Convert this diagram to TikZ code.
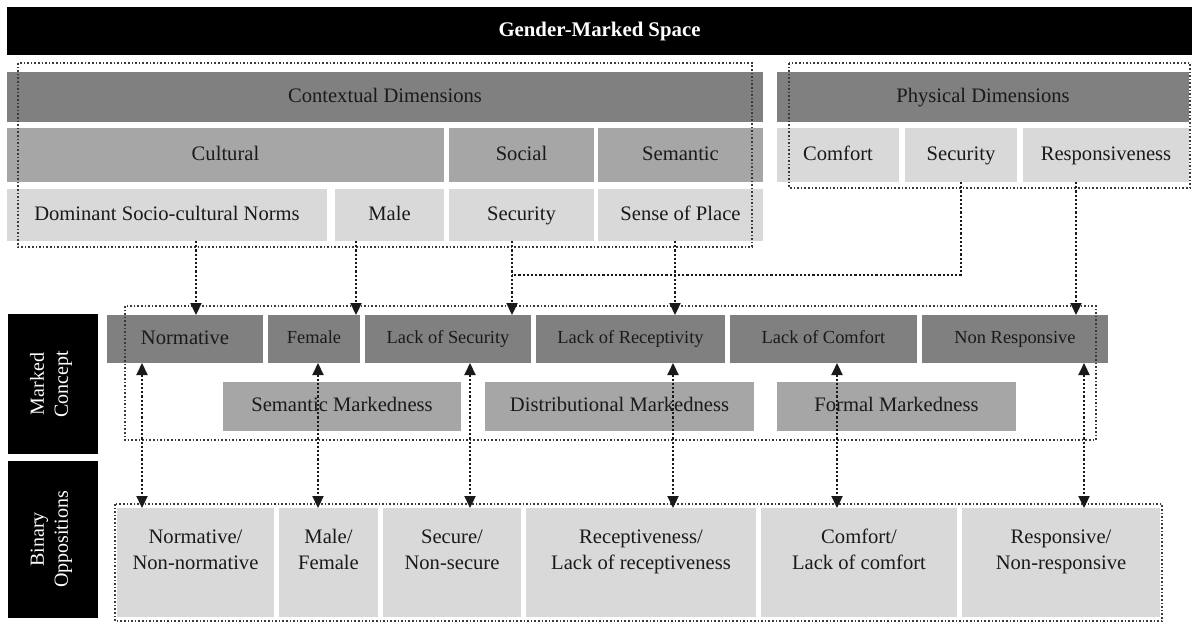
\documentclass[tikz,border=0pt]{standalone}
\usepackage{fontspec}
\setmainfont{Liberation Serif}
\usepackage{tikz}
\usetikzlibrary{arrows.meta,calc,positioning}
\definecolor{ink}{HTML}{1A1A1A}
\definecolor{dotgrey}{HTML}{3A3A3A}
\definecolor{bardark}{HTML}{808080}
\definecolor{barmid}{HTML}{A6A6A6}
\definecolor{barlight}{HTML}{D9D9D9}
\tikzset{
  conn/.style={-{Triangle[length=6pt,width=5.5pt]},line width=1.1pt,densely dotted,draw=ink},
  biconn/.style={{Triangle[length=6pt,width=5.5pt]}-{Triangle[length=6pt,width=5.5pt]},line width=1.1pt,densely dotted,draw=ink},
  link/.style={line width=1.1pt,densely dotted,draw=ink},
  cell/.style={inner sep=0pt,outer sep=0pt,align=center,text=ink,text height=7.4pt,text depth=2.1pt,
               font=\fontsize{10.3}{13}\selectfont},
  darkcell/.style={cell,fill=bardark},
  midcell/.style={cell,fill=barmid},
  lightcell/.style={cell,fill=barlight},
  pairs/.style={lightcell,minimum height=54.5pt,text height=20.4pt,text depth=13pt},
  smalltext/.style={font=\fontsize{9.2}{11}\selectfont,text height=6.6pt,text depth=1.9pt},
  headbar/.style={cell,fill=black,text=white,font=\fontsize{10.4}{12}\selectfont\bfseries},
  sidetag/.style={cell,fill=black,text=white,text height=17pt,text depth=2.1pt,font=\fontsize{10}{12}\selectfont},
  group/.style={densely dotted,line width=0.8pt,draw=dotgrey}
}
\begin{document}
\begin{tikzpicture}[x=0.5pt,y=-0.5pt]
  \useasboundingbox (0,0) rectangle (1193,623);
  % title
  \node[headbar,anchor=north west,minimum width=592.5pt,minimum height=24pt] (title) at (7,7) {Gender-Marked Space};
  % dimensions
  \node[darkcell,anchor=north west,minimum width=378pt,minimum height=25pt] (ctx) at (7,72) {Contextual Dimensions};
  \node[darkcell,minimum width=206pt,minimum height=25pt,right=7pt of ctx] (phys) {Physical Dimensions};
  \node[midcell,anchor=north west,minimum width=218.5pt,minimum height=27pt] (cult) at (7,128) {Cultural};
  \node[midcell,minimum width=72.5pt,minimum height=27pt,right=2.5pt of cult] (soc) {Social};
  \node[midcell,minimum width=82.5pt,minimum height=27pt,right=2pt of soc] (sem) {Semantic};
  \node[lightcell,minimum width=61pt,minimum height=27pt,right=7pt of sem] (comf) {Comfort};
  \node[lightcell,minimum width=56pt,minimum height=27pt,right=3pt of comf] (phsec) {Security};
  \node[lightcell,minimum width=83pt,minimum height=27pt,right=3pt of phsec] (resp) {Responsiveness};
  \node[lightcell,anchor=north west,minimum width=160pt,minimum height=26pt] (dom) at (7,189) {Dominant Socio-cultural Norms};
  \node[lightcell,minimum width=54.5pt,minimum height=26pt,right=4pt of dom] (male) {Male};
  \node[lightcell,minimum width=72.5pt,minimum height=26pt,right=2.5pt of male] (csec) {Security};
  \node[lightcell,minimum width=82.5pt,minimum height=26pt,right=2pt of csec] (sop) {Sense of Place};
  \draw[group] ([shift={(11,-9)}]ctx.north west) rectangle ([shift={(-11,6)}]sop.south east);
  \draw[group] ([shift={(12,-9)}]phys.north west) rectangle ([shift={(1,6)}]resp.south east);
  % side tags
  \node[sidetag,rotate=90,anchor=north east,minimum width=70pt,minimum height=45pt] (mclab) at (8,314) {Marked\\Concept};
  \node[sidetag,rotate=90,anchor=north east,minimum width=78.5pt,minimum height=45pt] (bolab) at (8,461) {Binary\\Oppositions};
  % marked concept
  \node[darkcell,anchor=north west,minimum width=78pt,minimum height=24pt] (norm) at (107,315) {Normative};
  \node[darkcell,smalltext,minimum width=46pt,minimum height=24pt,right=2.5pt of norm] (fem) {Female};
  \node[darkcell,smalltext,minimum width=83pt,minimum height=24pt,right=2.5pt of fem] (lsec) {Lack of Security};
  \node[darkcell,smalltext,minimum width=94.5pt,minimum height=24pt,right=2.5pt of lsec] (lrec) {Lack of Receptivity};
  \node[darkcell,smalltext,minimum width=93.5pt,minimum height=24pt,right=2.5pt of lrec] (lcom) {Lack of Comfort};
  \node[darkcell,smalltext,minimum width=93pt,minimum height=24pt,right=2.5pt of lcom] (nres) {Non Responsive};
  \node[midcell,anchor=north west,minimum width=119pt,minimum height=24.5pt] (semm) at (223,382) {Semantic Markedness};
  \node[midcell,minimum width=134.5pt,minimum height=24.5pt,right=12pt of semm] (dism) {Distributional Markedness};
  \node[midcell,minimum width=119.5pt,minimum height=24.5pt,right=11.5pt of dism] (form) {Formal Markedness};
  \draw[group] ([shift={(18,-9)}]norm.north west) rectangle ($(nres.east |- form.south)+(-12,9)$);
  % binary oppositions
  \node[pairs,anchor=north west,minimum width=78.5pt] (bnorm) at (117,508) {Normative/\\Non-normative};
  \node[pairs,minimum width=49.5pt,right=2.5pt of bnorm] (bmale) {Male/\\Female};
  \node[pairs,minimum width=69pt,right=2.5pt of bmale] (bsec) {Secure/\\Non-secure};
  \node[pairs,minimum width=115pt,right=2.5pt of bsec] (brec) {Receptiveness/\\Lack of receptiveness};
  \node[pairs,minimum width=98pt,right=2.5pt of brec] (bcom) {Comfort/\\Lack of comfort};
  \node[pairs,minimum width=99pt,right=2.5pt of bcom] (bres) {Responsive/\\Non-responsive};
  \draw[group] ([shift={(-2,-4)}]bnorm.north west) rectangle ([shift={(2,4)}]bres.south east);
  % dimensions to marked concept
  \draw[conn] ([xshift=14.5pt]dom.south) coordinate (t1) -- (t1 |- norm.north);
  \draw[conn] ([xshift=-16.75pt]male.south) coordinate (t2) -- (t2 |- fem.north);
  \draw[conn] ([xshift=-4.75pt]csec.south) coordinate (t3) -- (t3 |- lsec.north);
  \draw[conn] ([xshift=-2.75pt]sop.south) coordinate (t4) -- (t4 |- lrec.north);
  \draw[conn] ([xshift=-15pt]resp.south) coordinate (t5) -- (t5 |- nres.north);
  \draw[link] (phsec.south) |- ($(t3)+(0,34)$);
  % marked concept to binary oppositions
  \draw[biconn] ([xshift=-21.5pt]norm.south) coordinate (b1) -- (b1 |- bnorm.north);
  \draw[biconn] ([xshift=2pt]fem.south) coordinate (b2) -- (b2 |- bmale.north);
  \draw[biconn] ([xshift=11pt]lsec.south) coordinate (b3) -- (b3 |- bsec.north);
  \draw[biconn] ([xshift=21.25pt]lrec.south) coordinate (b4) -- (b4 |- brec.north);
  \draw[biconn] ([xshift=6.75pt]lcom.south) coordinate (b5) -- (b5 |- bcom.north);
  \draw[biconn] ([xshift=34.5pt]nres.south) coordinate (b6) -- (b6 |- bres.north);
\end{tikzpicture}
\end{document}
